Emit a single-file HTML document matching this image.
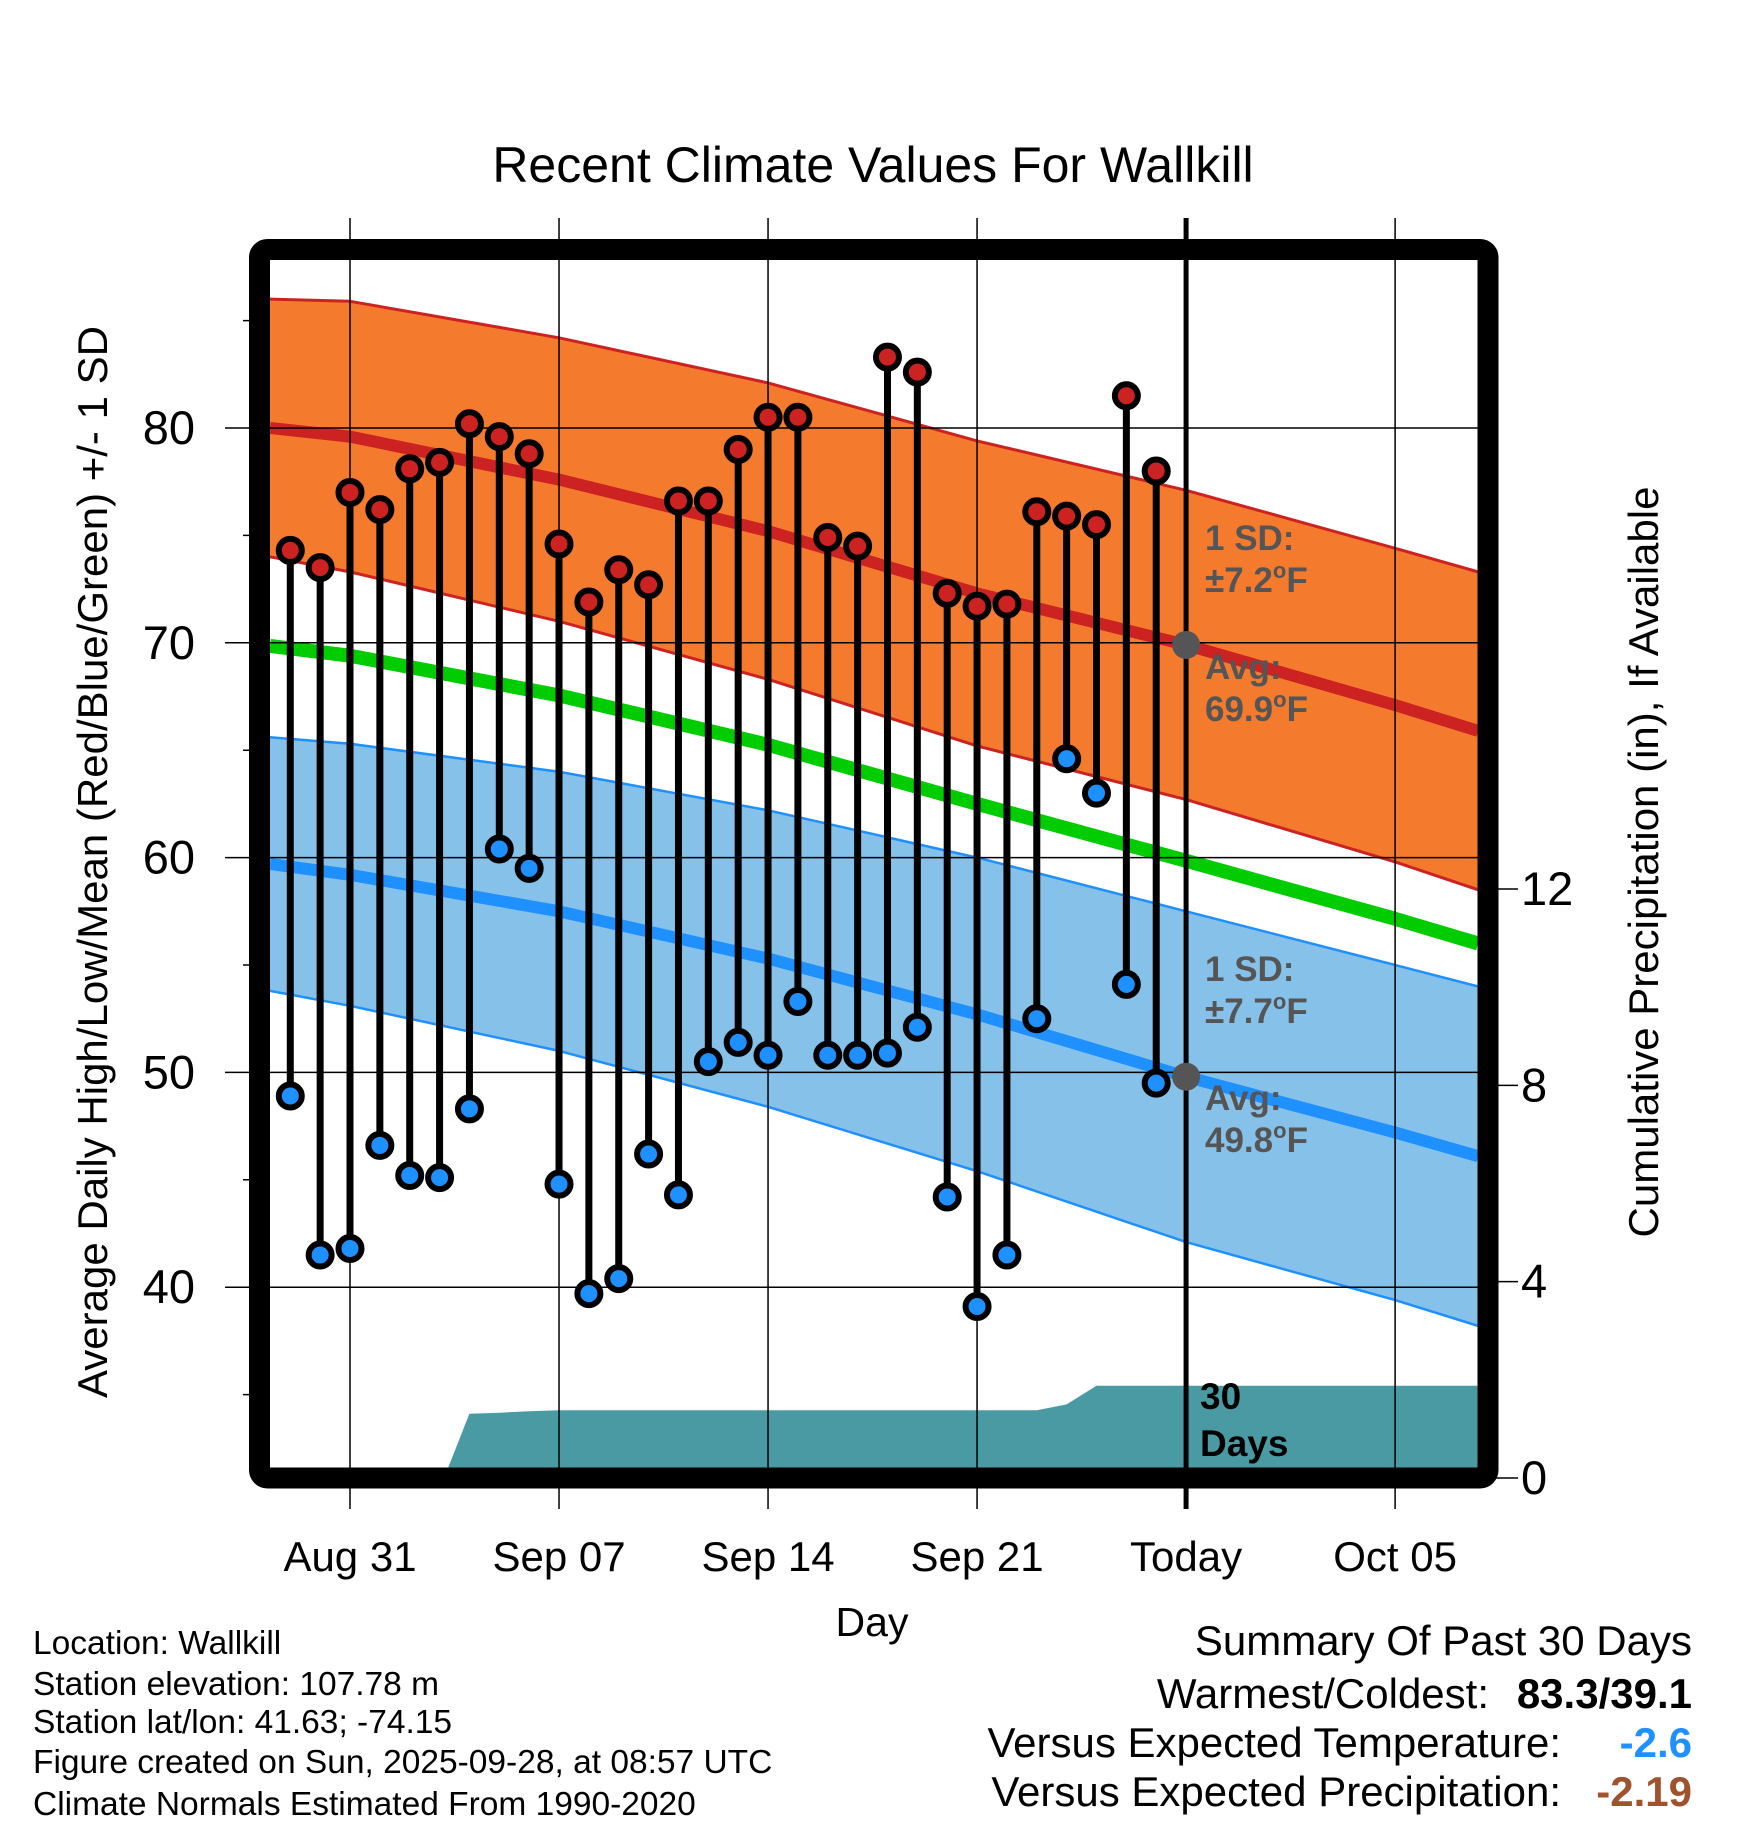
<!DOCTYPE html>
<html><head><meta charset="utf-8"><style>
body{margin:0;background:#fff}
svg{display:block;font-family:"Liberation Sans",sans-serif}
</style></head><body>
<svg id="chart" width="1748" height="1828" viewBox="0 0 1748 1828">
<defs><clipPath id="plotclip"><rect x="270" y="260" width="1208" height="1208"/></clipPath></defs>
<text x="873" y="182" font-size="50" text-anchor="middle">Recent Climate Values For Wallkill</text>
<g id="bands" clip-path="url(#plotclip)"></g>
<g id="grid"></g>
<g id="marks"></g>
<rect x="259.5" y="249.5" width="1228.5" height="1228.5" rx="8" fill="none" stroke="#000" stroke-width="21"/>
<g id="axes"></g>
<g font-weight="bold" font-size="35" fill="#555">
<text x="1205" y="550">1 SD:</text>
<text x="1205" y="592">±7.2<tspan font-size="22" dy="-14">o</tspan><tspan dy="14">F</tspan></text>
<text x="1205" y="679">Avg:</text>
<text x="1205" y="721">69.9<tspan font-size="22" dy="-14">o</tspan><tspan dy="14">F</tspan></text>
<text x="1205" y="981">1 SD:</text>
<text x="1205" y="1023">±7.7<tspan font-size="22" dy="-14">o</tspan><tspan dy="14">F</tspan></text>
<text x="1205" y="1110">Avg:</text>
<text x="1205" y="1152">49.8<tspan font-size="22" dy="-14">o</tspan><tspan dy="14">F</tspan></text>
</g>
<g font-weight="bold" font-size="37" fill="#000">
<text x="1200" y="1409">30</text><text x="1200" y="1456">Days</text>
</g>
<text x="872" y="1636" font-size="41" text-anchor="middle">Day</text>
<text transform="translate(107,862) rotate(-90)" font-size="42" text-anchor="middle">Average Daily High/Low/Mean (Red/Blue/Green) +/- 1 SD</text>
<text transform="translate(1658,862) rotate(-90)" font-size="42" text-anchor="middle">Cumulative Precipitation (in), If Available</text>
<g font-size="33.5">
<text x="33" y="1654">Location: Wallkill</text>
<text x="33" y="1695">Station elevation: 107.78 m</text>
<text x="33" y="1733">Station lat/lon: 41.63; -74.15</text>
<text x="33" y="1773">Figure created on Sun, 2025-09-28, at 08:57 UTC</text>
<text x="33" y="1815">Climate Normals Estimated From 1990-2020</text>
</g>
<g font-size="42" text-anchor="end">
<text x="1692" y="1655">Summary Of Past 30 Days</text>
<text x="1489" y="1708">Warmest/Coldest:</text>
<text x="1692" y="1708" font-weight="bold">83.3/39.1</text>
<text x="1561" y="1757">Versus Expected Temperature:</text>
<text x="1692" y="1757" font-weight="bold" fill="#1E90FF">-2.6</text>
<text x="1561" y="1806">Versus Expected Precipitation:</text>
<text x="1692" y="1806" font-weight="bold" fill="#A0522D">-2.19</text>
</g>
</svg>
<script>
// observation days (offset from Aug 31)
const obsDays = [-2,-1,0,1,2,3,4,5,6,7,8,9,10,11,12,13,14,15,16,17,18,19,20,21,22,23,24,25,26,27];
const highs = [74.3,73.5,77.0,76.2,78.1,78.4,80.2,79.6,78.8,74.6,71.9,73.4,72.7,76.6,76.6,79.0,80.5,80.5,74.9,74.5,83.3,82.6,72.3,71.7,71.8,76.1,75.9,75.5,81.5,78.0];
const lows = [48.9,41.5,41.8,46.6,45.2,45.1,48.3,60.4,59.5,44.8,39.7,40.4,46.2,44.3,50.5,51.4,50.8,53.3,50.8,50.8,50.9,52.1,44.2,39.1,41.5,52.5,64.6,63.0,54.1,49.5];
// climate normals
const normDays = [-2.68,0,7,14,21,28,35,37.78];
const normHigh = [80.0,79.6,77.6,75.2,72.3,69.9,67.1,65.9];
const sdHigh = [6.0,6.3,6.6,6.9,7.1,7.2,7.3,7.4];
const normLow = [59.7,59.2,57.5,55.3,52.7,49.8,47.2,46.1];
const sdLow = [5.9,6.1,6.5,6.9,7.3,7.7,7.8,7.9];
// cumulative precipitation
const precipDays = [-2.68,3.15,4,5,6,7,23,24,25,37.78];
const precipVals = [0,0,1.31,1.33,1.36,1.38,1.38,1.5,1.88,1.88];
// ticks
const xTickDays = [0,7,14,21,28,35];
const xTickLabels = ["Aug 31","Sep 07","Sep 14","Sep 21","Today","Oct 05"];
const yTicks = [40,50,60,70,80];
const yMinor = [35,45,55,65,75,85];
const pTicks = [0,4,8,12];
const todayDay = 28;

const NS="http://www.w3.org/2000/svg";
const x = d => 350 + d*29.86;
const y = v => 428 + (80-v)*21.48;
const yp = p => 1478 - p*49.08;
function mk(tag, attrs, parent){const e=document.createElementNS(NS,tag);for(const k in attrs)e.setAttribute(k,attrs[k]);parent.appendChild(e);return e;}
const bands=document.getElementById('bands'), grid=document.getElementById('grid'), marks=document.getElementById('marks'), axes=document.getElementById('axes');
function pts(days, vals){return days.map((d,i)=>x(d).toFixed(1)+','+y(vals[i]).toFixed(1));}
function bandPoly(avg, sd, fill, name){
  const up=normDays.map((d,i)=>x(d).toFixed(1)+','+y(avg[i]+sd[i]).toFixed(1));
  const lo=normDays.map((d,i)=>x(d).toFixed(1)+','+y(avg[i]-sd[i]).toFixed(1)).reverse();
  const p=mk('polygon',{points:up.concat(lo).join(' '),fill:fill},bands);
  
  
}
function line(days, vals, color, w, name, parent){
  const l=mk('polyline',{points:pts(days,vals).join(' '),fill:'none',stroke:color,'stroke-width':w,'stroke-linejoin':'round'},parent);
  
  
}
bandPoly(normHigh,sdHigh,'#F47A2D','high-sd-band');
bandPoly(normLow,sdLow,'#85C1E9','low-sd-band');
line(normDays,normHigh.map((v,i)=>v+sdHigh[i]),'#CC2222',3,'high-upper-sd-line',bands);
line(normDays,normHigh.map((v,i)=>v-sdHigh[i]),'#CC2222',3,'high-lower-sd-line',bands);
line(normDays,normLow.map((v,i)=>v+sdLow[i]),'#1E90FF',2.5,'low-upper-sd-line',bands);
line(normDays,normLow.map((v,i)=>v-sdLow[i]),'#1E90FF',2.5,'low-lower-sd-line',bands);
line(normDays,normHigh,'#CC2222',12,'normal-high-line',bands);
line(normDays,normLow,'#1E90FF',12,'normal-low-line',bands);
line(normDays,normHigh.map((v,i)=>(v+normLow[i])/2),'#00CC00',14,'normal-mean-line',bands);
// precipitation
{
  const pp=precipDays.map((d,i)=>x(d).toFixed(1)+','+yp(precipVals[i]).toFixed(1));
  pp.push(x(precipDays[precipDays.length-1]).toFixed(1)+','+yp(0));
  pp.push(x(precipDays[0]).toFixed(1)+','+yp(0));
  const p=mk('polygon',{points:pp.join(' '),fill:'#4A9AA4'},bands);
  
  
}
// grid
xTickDays.forEach((d,i)=>{
  const g=mk('line',{x1:x(d),x2:x(d),y1:218,y2:1509,stroke:'#000','stroke-width':d===todayDay?5:1.5},grid);
  
  
  const t=mk('text',{x:x(d),y:1571,'font-size':42,'text-anchor':'middle'},axes);
  t.textContent=xTickLabels[i];
  
  
});
yTicks.forEach(v=>{
  const g=mk('line',{x1:225,x2:1478,y1:y(v),y2:y(v),stroke:'#000','stroke-width':1.5},grid);
  
  
  const t=mk('text',{x:195,y:y(v)+16,'font-size':47,'text-anchor':'end'},axes);
  t.textContent=v;
  
  
});
yMinor.forEach(v=>{
  const g=mk('line',{x1:243,x2:260,y1:y(v),y2:y(v),stroke:'#000','stroke-width':1.5},grid);
  
  
});
pTicks.forEach(p=>{
  const g=mk('line',{x1:1488,x2:1518,y1:yp(p),y2:yp(p),stroke:'#000','stroke-width':1.5},grid);
  
  
  const t=mk('text',{x:1521,y:yp(p)+16,'font-size':47},axes);
  t.textContent=p;
  
  
});
// today normal markers
[normHigh[5],normLow[5]].forEach(v=>{
  const c=mk('circle',{cx:x(todayDay),cy:y(v),r:14,fill:'#555'},marks);
  
  
});
// observations
obsDays.forEach((d,i)=>{
  const s=mk('line',{x1:x(d),x2:x(d),y1:y(highs[i]),y2:y(lows[i]),stroke:'#000','stroke-width':7},marks);
  
  
});
obsDays.forEach((d,i)=>{
  const h=mk('circle',{cx:x(d),cy:y(highs[i]),r:11.5,fill:'#CC2222',stroke:'#000','stroke-width':6},marks);
  
  
  const l=mk('circle',{cx:x(d),cy:y(lows[i]),r:11.5,fill:'#1E90FF',stroke:'#000','stroke-width':6},marks);
  
  
});
</script>
</body></html>
